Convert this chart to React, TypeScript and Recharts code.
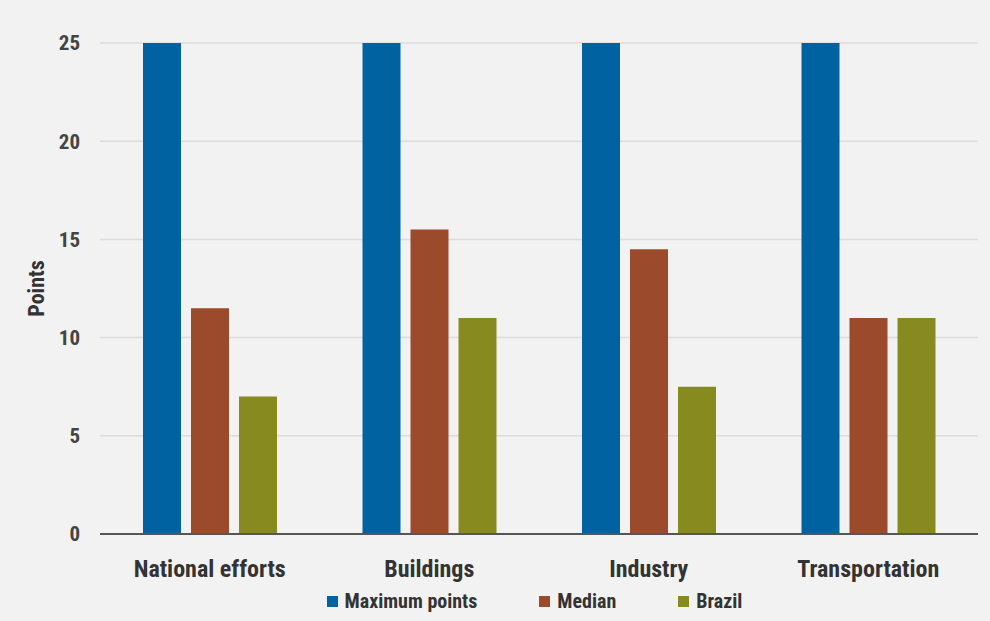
import { BarChart, Bar, XAxis, YAxis, CartesianGrid, Legend } from 'recharts';

const categories = ['National efforts', 'Buildings', 'Industry', 'Transportation'];
const maximumPoints = [25, 25, 25, 25];
const median = [11.5, 15.5, 14.5, 11];
const brazil = [7, 11, 7.5, 11];
const yTicks = [0, 5, 10, 15, 20, 25];

const data = categories.map((name, i) => ({
    name,
    max: maximumPoints[i],
    median: median[i],
    brazil: brazil[i],
}));

const FONT = '"Liberation Sans Narrow", "Roboto Condensed", "Liberation Sans", sans-serif';

const series = [
    { key: 'max', label: 'Maximum points', color: '#0062a0' },
    { key: 'median', label: 'Median', color: '#9b4a2b' },
    { key: 'brazil', label: 'Brazil', color: '#878a1f' },
];

const LegendContent = () => (
    <div style={{ display: 'flex', justifyContent: 'center', fontFamily: FONT, fontSize: 20, fontWeight: 'bold', color: '#333', paddingLeft: 91 }}>
        {series.map((s, i) => (
            <div key={s.key} style={{ display: 'flex', alignItems: 'center', marginRight: i < 2 ? 62 : 0 }}>
                <span style={{ width: 11, height: 11, background: s.color, display: 'inline-block', marginRight: 7 }} />
                {s.label}
            </div>
        ))}
    </div>
);

const App = () => {
    return (
        <div style={{ position: 'absolute', left: 0, top: 0, width: 990, height: 621, background: '#f2f2f2' }}>
            <BarChart
                width={990}
                height={621}
                data={data}
                margin={{ top: 43, right: 12, bottom: 33, left: 0 }}
                barSize={38}
                barGap={10}
            >
                <CartesianGrid vertical={false} stroke="#dcdcdc" strokeWidth={1.5} />
                <XAxis
                    dataKey="name"
                    tickLine={false}
                    axisLine={{ stroke: '#555', strokeWidth: 2 }}
                    tick={{ fontFamily: FONT, fontSize: 24, fontWeight: 'bold', fill: '#333' }}
                    tickMargin={20}
                    height={30}
                />
                <YAxis
                    domain={[0, 25]}
                    ticks={yTicks}
                    width={100}
                    tickLine={false}
                    axisLine={false}
                    tick={{ fontFamily: FONT, fontSize: 21, fontWeight: 'bold', fill: '#444' }}
                    tickMargin={14}
                    label={{
                        value: 'Points',
                        angle: -90,
                        position: 'insideLeft',
                        offset: 36,
                        style: { fontFamily: FONT, fontSize: 22, fontWeight: 'bold', fill: '#333', textAnchor: 'middle' },
                    }}
                />
                <Legend verticalAlign="bottom" content={<LegendContent />} wrapperStyle={{ bottom: 8 }} />
                {series.map((s) => (
                    <Bar key={s.key} dataKey={s.key} name={s.label} fill={s.color} isAnimationActive={false} />
                ))}
            </BarChart>
        </div>
    );
};

export default App;
